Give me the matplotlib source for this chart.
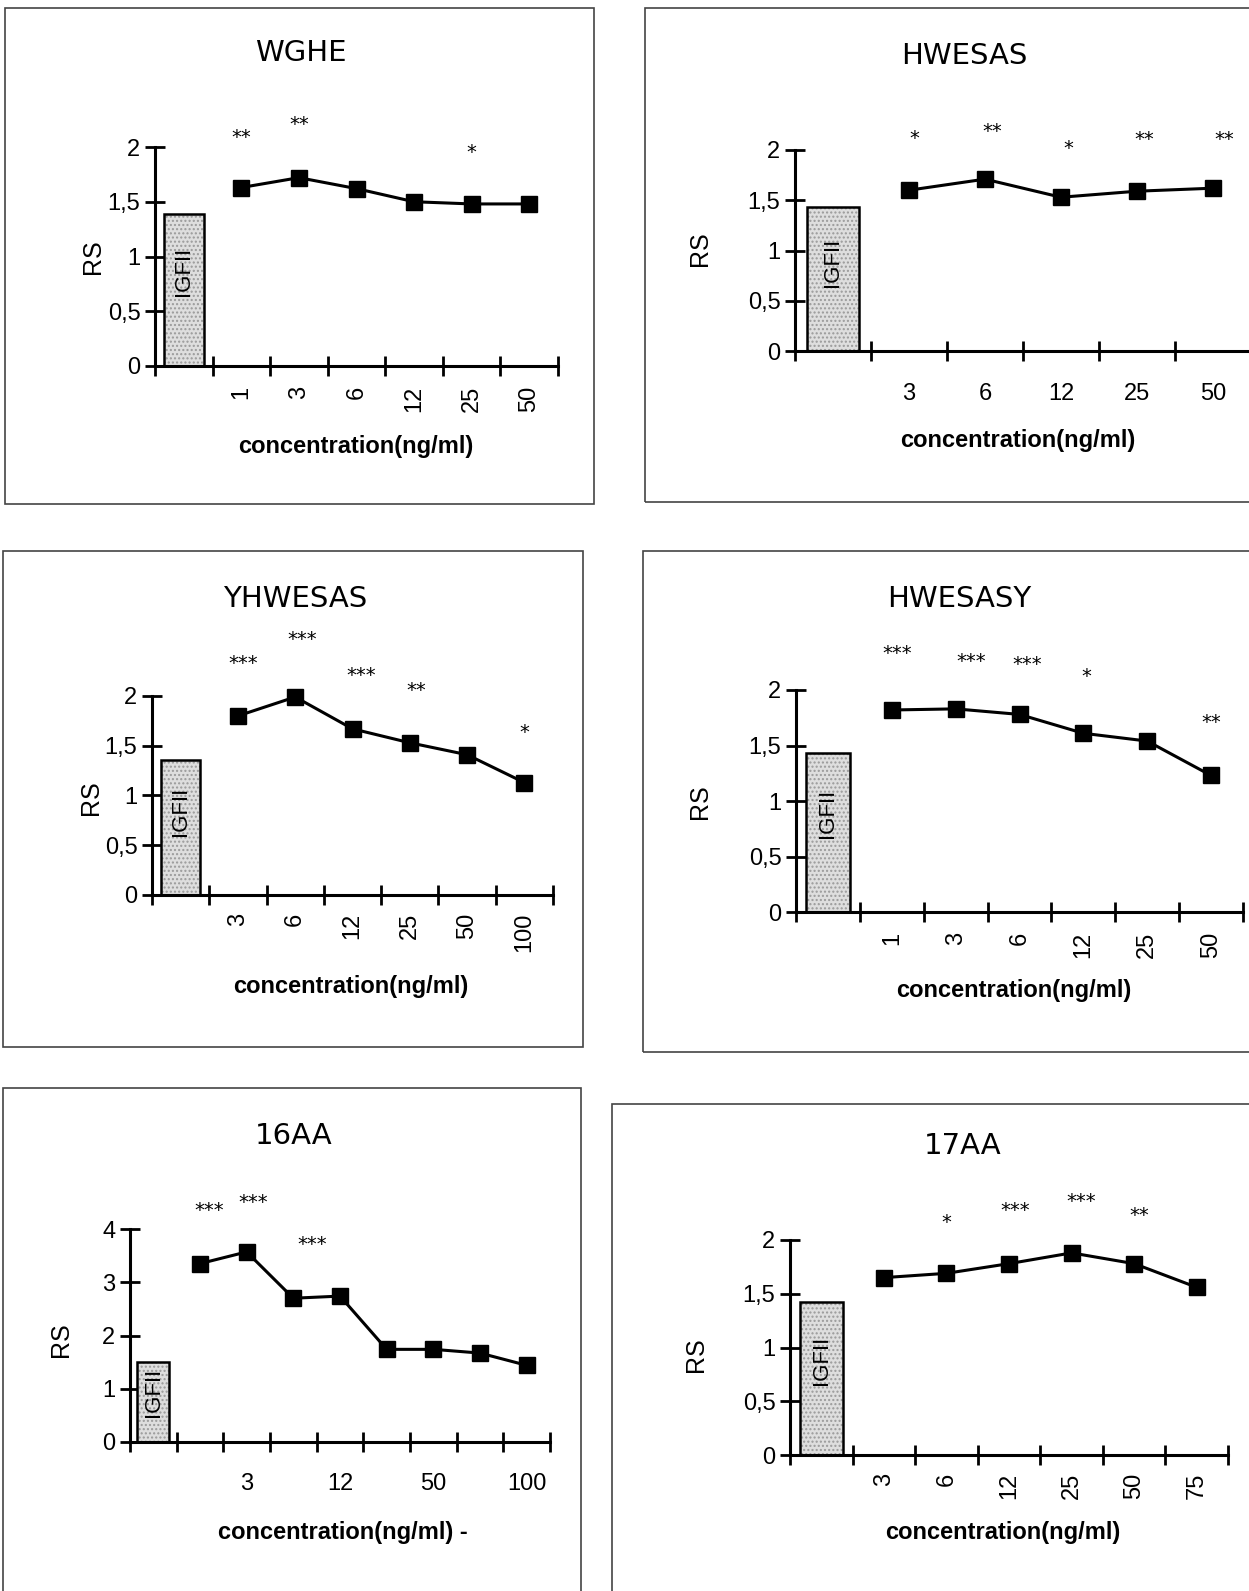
import matplotlib
matplotlib.use('Agg')
import matplotlib.pyplot as plt
from matplotlib.patches import Rectangle
import numpy as np

plt.rcParams['font.family'] = ['Liberation Sans', 'DejaVu Sans']

W, H = 1249, 1591

# ---- data (RS values) ----
wghe_conc = ['1', '3', '6', '12', '25', '50']
wghe_rs = [1.63, 1.72, 1.62, 1.50, 1.48, 1.48]
wghe_igf = 1.39
wghe_sig = ['**', '**', '', '', '*', '']
wghe_sig_y = [2.09, 2.21, 0, 0, 1.95, 0]

hwesas_conc = ['3', '6', '12', '25', '50']
hwesas_rs = [1.60, 1.71, 1.53, 1.59, 1.62]
hwesas_igf = 1.43
hwesas_sig = ['*', '**', '*', '**', '**']
hwesas_sig_y = [2.11, 2.18, 2.01, 2.10, 2.10]

yhwesas_conc = ['3', '6', '12', '25', '50', '100']
yhwesas_rs = [1.80, 1.99, 1.67, 1.53, 1.41, 1.13]
yhwesas_igf = 1.36
yhwesas_sig = ['***', '***', '***', '**', '', '*']
yhwesas_sig_y = [2.33, 2.57, 2.21, 2.06, 0, 1.63]

hwesasy_conc = ['1', '3', '6', '12', '25', '50']
hwesasy_rs = [1.82, 1.83, 1.78, 1.61, 1.54, 1.23]
hwesasy_igf = 1.43
hwesasy_sig = ['***', '***', '***', '*', '', '**']
hwesasy_sig_y = [2.33, 2.26, 2.23, 2.12, 0, 1.71]

aa16_conc = ['1', '3', '6', '12', '25', '50', '75', '100']
aa16_rs = [3.35, 3.57, 2.70, 2.74, 1.74, 1.74, 1.67, 1.44]
aa16_igf = 1.50
aa16_sig = ['***', '***', '***', '', '', '', '', '']
aa16_sig_y = [4.34, 4.50, 3.70, 0, 0, 0, 0, 0]

aa17_conc = ['3', '6', '12', '25', '50', '75']
aa17_rs = [1.65, 1.69, 1.78, 1.88, 1.78, 1.56]
aa17_igf = 1.42
aa17_sig = ['', '*', '***', '***', '**', '']
aa17_sig_y = [0, 2.16, 2.27, 2.36, 2.23, 0]

fig = plt.figure(figsize=(W / 100, H / 100), dpi=100)


def ftext(x, y, s, **kw):
    fig.text(x / W, 1 - y / H, s, **kw)


def panel(name, conc, rs, igf, sig, sig_y, lay):
    l, r, y0, yt = lay['box']
    fx0, fy0, fx1, fy1 = lay['frame']
    fig.patches.append(Rectangle((fx0 / W, 1 - fy1 / H), (fx1 - fx0) / W, (fy1 - fy0) / H,
                                 transform=fig.transFigure, fill=False,
                                 edgecolor='#444444', linewidth=1.2))
    ax = fig.add_axes([l / W, 1 - y0 / H, (r - l) / W, (y0 - yt) / H])
    n = len(conc) + 1
    ymax = lay['ymax']
    ax.set_xlim(-0.5, n - 0.5)
    ax.set_ylim(0, ymax)
    ax.patch.set_alpha(0)

    # IGFII reference bar
    ax.bar(0, igf, width=0.69, color='#dedede', edgecolor='#9a9a9a', hatch='....',
           linewidth=0, zorder=2)
    ax.bar(0, igf, width=0.69, fill=False, edgecolor='black', linewidth=1.8, zorder=3)
    ax.text(0, igf * 0.62, 'IGFII', rotation=90, ha='center', va='center',
            fontsize=16, zorder=4)

    x = np.arange(1, n)
    ax.plot(x, rs, color='black', linewidth=2.2, marker='s', markersize=11,
            clip_on=False, zorder=5)

    dx = lay.get('sig_dx', [0] * len(sig))
    for i, (s, sy) in enumerate(zip(sig, sig_y)):
        if s:
            ax.text(x[i] + dx[i], sy, s, ha='center', va='center', fontsize=14,
                    family='DejaVu Sans', clip_on=False)

    for sp in ['top', 'right']:
        ax.spines[sp].set_visible(False)
    for sp in ['left', 'bottom']:
        ax.spines[sp].set_linewidth(2.2)

    ax.set_yticks(lay['yticks'])
    ax.set_yticklabels(lay['ytl'], fontsize=17)
    ax.tick_params(axis='y', direction='inout', length=15, width=2, pad=3)

    ax.set_xticks(np.arange(-0.5, n, 1.0))
    ax.set_xticklabels([])
    ax.tick_params(axis='x', which='major', direction='inout', length=15, width=2)
    step = lay['step']
    labels = [''] + list(conc)
    shown = [lab if k % step == 0 else '' for k, lab in enumerate(labels)]
    ax.set_xticks(np.arange(n), minor=True)
    ax.set_xticklabels(shown, minor=True, fontsize=17, rotation=lay['rot'],
                       va='top', ha='center')
    ax.tick_params(axis='x', which='minor', length=0, pad=lay['pad'])

    tx, ty = lay['title']
    ftext(tx, ty, name, ha='center', va='center', fontsize=21, family='DejaVu Sans')
    cx, cy = lay['xlabel']
    ftext(cx, cy, lay.get('xl', 'concentration(ng/ml)'), ha='center', va='center',
          fontsize=17, fontweight='bold')
    rx, ry = lay['rs']
    ftext(rx, ry, 'RS', ha='center', va='center', fontsize=18, rotation=90)


yt2 = [0, 0.5, 1, 1.5, 2]
ytl2 = ['0', '0,5', '1', '1,5', '2']

panel('WGHE', wghe_conc, wghe_rs, wghe_igf, wghe_sig, wghe_sig_y,
      dict(box=(155, 558, 366, 147), frame=(5, 8, 594, 504), ymax=2, yticks=yt2, ytl=ytl2,
           rot=90, step=1, pad=14, title=(301, 53), xlabel=(356, 446), rs=(93, 257)))

panel('HWESAS', hwesas_conc, hwesas_rs, hwesas_igf, hwesas_sig, hwesas_sig_y,
      dict(box=(795, 1251, 351, 150), frame=(645, 8, 1262, 502), ymax=2, yticks=yt2, ytl=ytl2,
           rot=0, step=1, pad=23, title=(964, 56), xlabel=(1018, 441), rs=(700, 249),
           sig_dx=[0.07, 0.1, 0.1, 0.1, 0.15]))

panel('YHWESAS', yhwesas_conc, yhwesas_rs, yhwesas_igf, yhwesas_sig, yhwesas_sig_y,
      dict(box=(152, 553, 895, 696), frame=(3, 551, 583, 1047), ymax=2, yticks=yt2, ytl=ytl2,
           rot=90, step=1, pad=13, title=(295, 599), xlabel=(351, 987), rs=(91, 798),
           sig_dx=[0.1, 0.12, 0.15, 0.12, 0, 0]))

panel('HWESASY', hwesasy_conc, hwesasy_rs, hwesasy_igf, hwesasy_sig, hwesasy_sig_y,
      dict(box=(796, 1243, 912, 690), frame=(643, 551, 1262, 1052), ymax=2, yticks=yt2, ytl=ytl2,
           rot=90, step=1, pad=14, title=(959, 599), xlabel=(1014, 991), rs=(700, 802),
           sig_dx=[0.08, 0.25, 0.12, 0.05, 0, 0]))

panel('16AA', aa16_conc, aa16_rs, aa16_igf, aa16_sig, aa16_sig_y,
      dict(box=(130, 550, 1442, 1229), frame=(3, 1088, 581, 1600), ymax=4,
           yticks=[0, 1, 2, 3, 4], ytl=['0', '1', '2', '3', '4'],
           rot=0, step=2, pad=22, title=(294, 1136), xlabel=(343, 1532), rs=(61, 1340),
           xl='concentration(ng/ml) -', sig_dx=[0.2, 0.15, 0.4, 0, 0, 0, 0, 0]))

panel('17AA', aa17_conc, aa17_rs, aa17_igf, aa17_sig, aa17_sig_y,
      dict(box=(790, 1228, 1455, 1240), frame=(612, 1104, 1262, 1600), ymax=2, yticks=yt2,
           ytl=ytl2, rot=90, step=1, pad=13, title=(963, 1146), xlabel=(1003, 1533),
           rs=(696, 1355), sig_dx=[0, 0, 0.1, 0.15, 0.08, 0]))

fig.savefig('out.png', dpi=100, facecolor='white')
